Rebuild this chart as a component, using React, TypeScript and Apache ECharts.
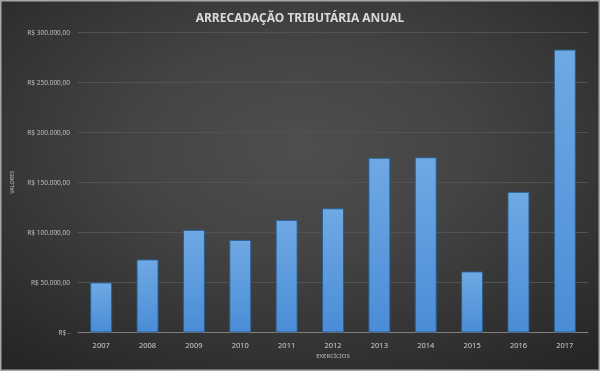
import React, { useEffect, useRef } from "react";
import * as echarts from "echarts";

const categories = ["2007", "2008", "2009", "2010", "2011", "2012", "2013", "2014", "2015", "2016", "2017"];
const values = [50000, 73000, 102500, 92500, 112500, 124000, 174500, 175000, 61000, 140500, 282500];
const yTicks = [0, 50000, 100000, 150000, 200000, 250000, 300000];

const title = "ARRECADAÇÃO TRIBUTÁRIA ANUAL";
const xTitle = "EXERCÍCIOS";
const yTitle = "VALORES";

function brl(v: number): string {
  if (v === 0) return "R$ -";
  const int = Math.round(v).toString().replace(/\B(?=(\d{3})+(?!\d))/g, ".");
  return "R$ " + int + ",00";
}

export default function App() {
  const ref = useRef<HTMLDivElement>(null);
  useEffect(() => {
    if (!ref.current) return;
    const chart = echarts.init(ref.current, undefined, { renderer: "svg" });
    const font = "Noto Sans";
    chart.setOption({
      animation: false,
      backgroundColor: {
        type: "radial",
        x: 0.5,
        y: 0.4,
        r: 0.8,
        colorStops: [
          { offset: 0, color: "#4e4e4e" },
          { offset: 0.35, color: "#444444" },
          { offset: 1, color: "#222222" },
        ],
      },
      title: {
        text: title,
        left: "center",
        top: 6,
        textStyle: { color: "#d9d9d9", fontSize: 12, fontWeight: "bold", fontFamily: font },
      },
      grid: { left: 78, right: 12, top: 32, bottom: 38.5, containLabel: false },
      xAxis: {
        type: "category",
        data: categories,
        name: xTitle,
        nameLocation: "middle",
        nameGap: 20,
        nameTextStyle: { color: "#bfbfbf", fontSize: 6, fontFamily: font },
        axisLine: { lineStyle: { color: "#7f7f7f", width: 1 } },
        axisTick: { show: false },
        axisLabel: { color: "#d0d0d0", fontSize: 7.5, fontFamily: font, margin: 8 },
      },
      yAxis: {
        type: "value",
        min: 0,
        max: 300000,
        interval: 50000,
        name: yTitle,
        nameLocation: "middle",
        nameGap: 63,
        nameRotate: 90,
        nameTextStyle: { color: "#bfbfbf", fontSize: 5.5, fontFamily: font },
        axisLine: { show: false },
        axisTick: { show: false },
        splitLine: { lineStyle: { color: "#525252", width: 1 } },
        axisLabel: {
          color: "#bfbfbf",
          fontSize: 6.5,
          fontFamily: font,
          margin: 8,
          formatter: (v: number) => (yTicks.includes(v) ? brl(v) : ""),
        },
      },
      series: [
        {
          type: "bar",
          data: values,
          barWidth: 22,
          itemStyle: {
            color: {
              type: "linear",
              x: 0,
              y: 0,
              x2: 0,
              y2: 1,
              colorStops: [
                { offset: 0, color: "#6fa9e4" },
                { offset: 1, color: "#4a8dd6" },
              ],
            },
            borderColor: "#2c5c8c",
            borderWidth: 1,
          },
        },
      ],
      graphic: [
        {
          type: "rect",
          shape: { x: 0.75, y: 0.75, width: 598.5, height: 369.5 },
          style: { fill: "none", stroke: "#a8a8a8", lineWidth: 1.5 },
          silent: true,
        },
      ],
    });
    return () => chart.dispose();
  }, []);
  return (
    <div
      ref={ref}
      style={{ position: "fixed", left: 0, top: 0, width: 600, height: 371 }}
    />
  );
}
